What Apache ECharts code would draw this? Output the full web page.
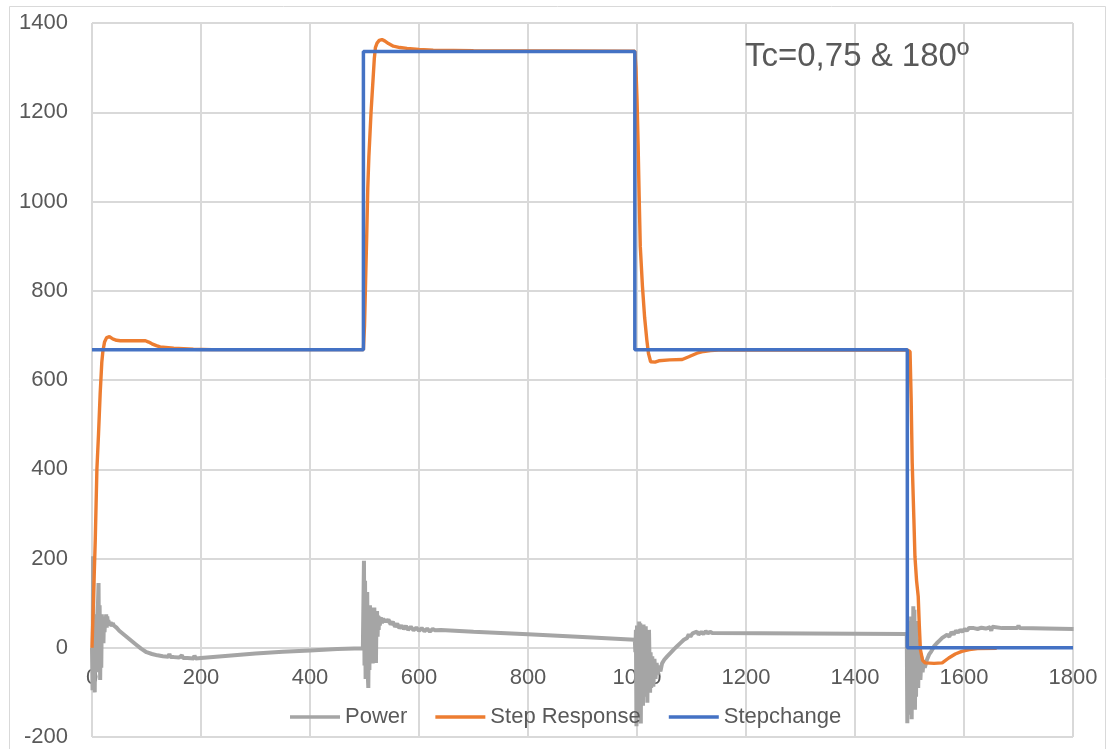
<!DOCTYPE html>
<html>
<head>
<meta charset="utf-8">
<title>Tc=0,75 & 180º</title>
<script src="https://cdn.jsdelivr.net/npm/echarts@6/dist/echarts.min.js"></script>
<style>
  html, body { margin: 0; padding: 0; background: #ffffff; }
  #chart { width: 1109px; height: 749px; }
</style>
</head>
<body>
<div id="chart"></div>
<script>
// Axis ranges and ticks
const xTicks = { min: 0, max: 1800, interval: 200 };
const yTicks = { min: -200, max: 1400, interval: 200 };
const seriesNames = ['Power', 'Step Response', 'Stepchange'];
const titleText = 'Tc=0,75 & 180º';

// Setpoint steps [time, value]
const stepchange = [
  [0, 668], [498, 668], [498, 1336], [996, 1336], [996, 668],
  [1496, 668], [1496, 0], [1800, 0]
];

// Measured step response [time, value]
const stepResponse = [
  [0, 0], [3, 120], [6, 242], [9, 400], [12, 480], [15, 570], [18, 640],
  [20, 665], [23, 685], [27, 695], [32, 697], [38, 692], [45, 689],
  [52, 688], [75, 688], [98, 688], [104, 685], [110, 681], [118, 677],
  [125, 674], [150, 671], [186, 669], [220, 668],
  [498, 668], [500, 720], [502, 820], [504, 920], [506, 1030], [508, 1100],
  [510, 1150], [512, 1200], [514, 1240], [516, 1280], [518, 1320],
  [520, 1345], [523, 1355], [527, 1361], [532, 1363], [537, 1360],
  [544, 1354], [553, 1348], [565, 1345], [578, 1343], [600, 1341],
  [626, 1339], [700, 1338], [996, 1337],
  [998, 1300], [1000, 1230], [1002, 1130], [1004, 1010], [1006, 900],
  [1010, 810], [1014, 740], [1018, 690], [1021, 660], [1025, 641],
  [1028, 638], [1033, 640], [1040, 643], [1060, 645], [1083, 646],
  [1095, 652], [1110, 660], [1122, 664], [1135, 666], [1150, 667],
  [1496, 667], [1501, 664], [1503, 560], [1505, 414], [1508, 290],
  [1510, 204], [1513, 150], [1516, 115], [1518, 50], [1520, -4],
  [1524, -28], [1529, -34], [1545, -35], [1560, -34], [1572, -23],
  [1584, -14], [1596, -8], [1610, -4], [1625, -2], [1660, -1]
];

// Drive power [time, value]
const power = [
  [0, 0], [1, -95], [2, 205], [3, -40], [4, 70], [5, -100], [6, 60],
  [7, -20], [8, 75], [9, -55], [10, 40], [11, 100], [12, 145], [13, -30],
  [14, 95], [15, -72], [16, 60], [17, -45], [18, 75], [19, 20], [20, 65],
  [21, 10], [22, 70], [23, 35], [24, 60], [25, 50], [26, 75], [27, 45],
  [28, 70], [29, 55], [30, 62], [32, 50], [34, 58], [36, 48], [38, 55],
  [40, 50], [45, 45], [50, 38], [60, 28], [70, 18], [80, 8], [90, -2],
  [100, -10], [110, -14], [120, -17], [130, -19], [140, -20], [142, -14],
  [144, -21], [150, -21], [160, -22], [165, -17], [167, -23], [175, -23],
  [187, -24], [188, -17], [190, -24], [200, -23], [250, -18], [300, -13],
  [350, -9], [400, -6], [450, -3], [497, -1],
  [498, -3], [499, 195], [500, -40], [501, 150], [502, -70], [503, 120],
  [504, -20], [505, 125], [506, -60], [507, -90], [508, 60], [509, -50],
  [510, 95], [511, -30], [512, 90], [513, -20], [514, 85], [515, -35],
  [516, 80], [517, 10], [518, 90], [519, 30], [520, 75], [521, -34],
  [522, 70], [523, 82], [524, 25], [525, 72], [526, 40], [527, 70],
  [528, 50], [530, 68], [532, 55], [534, 66], [536, 57], [538, 64],
  [540, 58], [544, 63], [548, 52], [552, 58], [556, 47], [560, 54],
  [564, 44], [568, 50], [572, 42], [576, 49], [580, 40], [585, 47],
  [590, 39], [595, 45], [600, 38], [605, 44], [610, 37], [615, 43],
  [620, 36], [625, 42], [630, 39], [640, 40], [700, 36], [800, 30],
  [900, 24], [996, 18],
  [997, -10], [998, 40], [999, -176], [1000, 50], [1001, -150], [1002, 45],
  [1003, -120], [1004, 59], [1005, -60], [1006, 55], [1007, -170],
  [1008, 48], [1009, -90], [1010, 40], [1011, -130], [1012, 52],
  [1013, -60], [1014, 35], [1015, -110], [1016, 48], [1017, -40],
  [1018, 30], [1019, -123], [1020, 20], [1021, -80], [1022, 40],
  [1023, -30], [1024, -101], [1025, -10], [1026, -90], [1028, -19],
  [1030, -87], [1032, -25], [1034, -70], [1036, -34], [1038, -60],
  [1040, -40], [1043, -53], [1046, -35], [1050, -27], [1055, -20],
  [1062, -11], [1068, -3], [1074, 4], [1080, 11], [1086, 18], [1092, 22],
  [1095, 30], [1098, 25], [1102, 32], [1105, 28], [1110, 36], [1113, 30],
  [1118, 35], [1122, 31], [1126, 37], [1130, 32], [1134, 36], [1138, 33],
  [1141, 33], [1495, 31],
  [1496, -169], [1497, 40], [1498, -120], [1499, 60], [1500, -150],
  [1501, 30], [1502, -100], [1503, 70], [1504, -160], [1505, 50],
  [1506, -80], [1507, 93], [1508, -40], [1509, 85], [1510, -139],
  [1511, 40], [1512, -110], [1513, 60], [1514, -60], [1515, 20],
  [1516, -90], [1517, 10], [1518, -50], [1519, -10], [1520, -72],
  [1522, -20], [1524, -55], [1526, -30], [1528, -45], [1532, -27],
  [1536, -15], [1540, -8], [1545, 3], [1550, 10], [1555, 16], [1560, 22],
  [1565, 26], [1569, 29], [1573, 25], [1577, 35], [1581, 30], [1585, 38],
  [1589, 34], [1593, 40], [1597, 36], [1601, 42], [1605, 38], [1609, 44],
  [1612, 40], [1618, 44], [1625, 42], [1632, 45], [1640, 43], [1648, 46],
  [1650, 38], [1652, 47], [1655, 44], [1670, 44], [1698, 44], [1700, 50],
  [1702, 44], [1750, 43], [1801, 42]
];

const colors = { power: '#A5A5A5', response: '#ED7D31', step: '#4472C4' };
const textColor = '#595959';
const gridColor = '#D9D9D9';
const fontFamily = 'Liberation Sans, Arial, sans-serif';

const W = 1109, H = 749;
const gridBox = { left: 92, right: 36, top: 23, bottom: 12 };
// The horizontal axis sits on the zero line of the vertical axis
const plotHeight = H - gridBox.top - gridBox.bottom;
const zeroOffset = -plotHeight * (0 - yTicks.min) / (yTicks.max - yTicks.min);

const chart = echarts.init(document.getElementById('chart'), null, { renderer: 'canvas' });

chart.setOption({
  animation: false,
  backgroundColor: '#ffffff',
  textStyle: { fontFamily: fontFamily },
  grid: {
    left: gridBox.left, right: gridBox.right, top: gridBox.top, bottom: gridBox.bottom,
    containLabel: false, outerBoundsMode: 'none'
  },
  graphic: [
    {
      type: 'rect',
      shape: { x: 9.5, y: 6.5, width: 1096, height: 760 },
      style: { fill: 'none', stroke: '#D9D9D9', lineWidth: 1 },
      silent: true, z: -10
    },
    {
      type: 'text',
      left: 745, top: 40,
      style: { text: titleText, fontSize: 33, fill: textColor, fontFamily: fontFamily },
      z: 10
    }
  ],
  legend: {
    left: 285, top: 701,
    icon: 'rect',
    itemWidth: 50, itemHeight: 3.5, itemGap: 28,
    textStyle: { fontSize: 22, color: textColor, fontFamily: fontFamily },
    data: seriesNames
  },
  xAxis: {
    type: 'value',
    min: xTicks.min, max: xTicks.max, interval: xTicks.interval,
    position: 'bottom',
    offset: zeroOffset,
    axisLine: { show: true, onZero: false, lineStyle: { color: gridColor, width: 2 } },
    axisTick: { show: false },
    axisLabel: { color: textColor, fontSize: 22, margin: 19, fontFamily: fontFamily,
      formatter: v => String(v) },
    splitLine: { show: true, lineStyle: { color: gridColor, width: 2 } }
  },
  yAxis: {
    type: 'value',
    min: yTicks.min, max: yTicks.max, interval: yTicks.interval,
    axisLine: { show: false },
    axisTick: { show: false },
    axisLabel: { color: textColor, fontSize: 22, margin: 24, fontFamily: fontFamily,
      formatter: v => String(v) },
    splitLine: { show: true, lineStyle: { color: gridColor, width: 2 } }
  },
  series: [
    {
      name: seriesNames[0], type: 'line', data: power, symbol: 'none',
      lineStyle: { color: colors.power, width: 4 }, itemStyle: { color: colors.power }, z: 2
    },
    {
      name: seriesNames[1], type: 'line', data: stepResponse, symbol: 'none',
      lineStyle: { color: colors.response, width: 3.4 }, itemStyle: { color: colors.response }, z: 3
    },
    {
      name: seriesNames[2], type: 'line', data: stepchange, symbol: 'none',
      lineStyle: { color: colors.step, width: 3.5 }, itemStyle: { color: colors.step }, z: 4
    }
  ]
});
</script>
</body>
</html>
